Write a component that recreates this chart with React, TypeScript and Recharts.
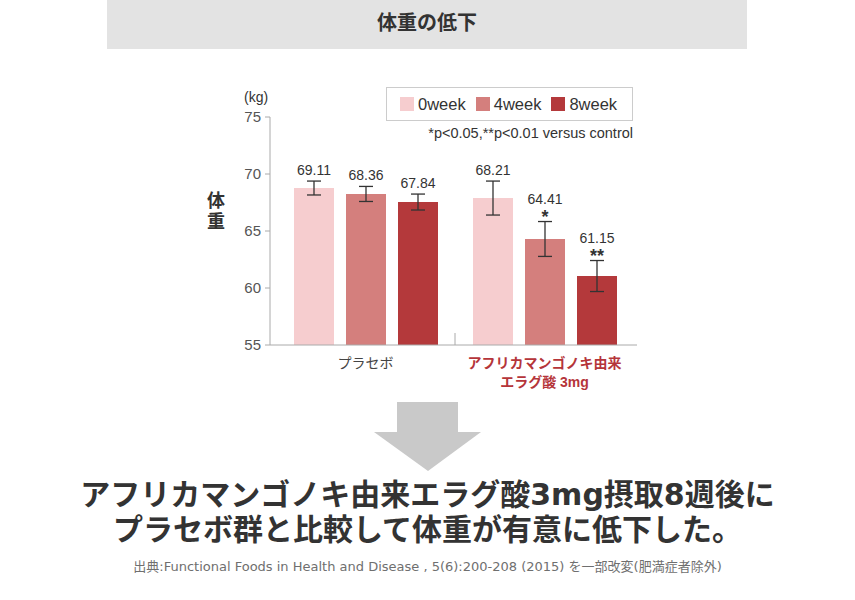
import React from 'react'
import { BarChart, Bar, XAxis, YAxis, ErrorBar, LabelList, Legend } from 'recharts'

const FONT = '"Liberation Sans", "Noto Sans CJK JP", sans-serif'
const HEAD_FONT = '"DejaVu Sans", "Noto Sans CJK JP", sans-serif'

const groups = ['プラセボ', 'アフリカマンゴノキ由来|エラグ酸 3mg']
const weekNames = ['0week', '4week', '8week']
const week0 = [68.77, 67.89]
const week4 = [68.25, 64.3]
const week8 = [67.54, 61.05]
const err0 = [0.61, 1.49]
const err4 = [0.66, 1.53]
const err8 = [0.7, 1.36]
const label0 = ['69.11', '68.21']
const label4 = ['68.36', '64.41']
const label8 = ['67.84', '61.15']
const sig0 = ['', '']
const sig4 = ['', '*']
const sig8 = ['', '**']
const yTicks = [55, 60, 65, 70, 75]

const COLORS = ['#f6cdcf', '#d47f7d', '#b4393b']
const RED_TEXT = '#b5353a'

const data = groups.map((g, i) => ({
  name: g,
  w0: week0[i], w4: week4[i], w8: week8[i],
  e0: err0[i], e4: err4[i], e8: err8[i],
}))

const Y_MIN = yTicks[0]

function makeLabel(labels: string[], errs: number[], sigs: string[]) {
  return (props: any) => {
    const vb = props.viewBox ?? props
    const x = vb.x, y = vb.y, w = vb.width, h = vb.height
    const i = props.index
    const v = Number(props.value)
    const pxPerUnit = h / (v - Y_MIN)
    const errTop = y - errs[i] * pxPerUnit
    const cx = x + w / 2
    const sig = sigs[i]
    return (
      <g>
        <text x={cx} y={sig ? errTop - 18 : errTop - 6} textAnchor="middle" fontSize={14} fill="#333" fontFamily={FONT}>
          {labels[i]}
        </text>
        {sig && (
          <text x={cx} y={errTop + 1} textAnchor="middle" fontSize={18} fontWeight={700} fill="#333" fontFamily={FONT}>
            {sig}
          </text>
        )}
      </g>
    )
  }
}

function XTick(props: any) {
  const { x, y, payload, index } = props
  const lines = String(payload.value).split('|')
  const red = index === 1
  return (
    <g>
      {index === 0 && (
        <line x1={x + payload.offset} x2={x + payload.offset} y1={y - 12} y2={y} stroke="#aaa" />
      )}
      {lines.map((l, k) => (
        <text key={k} x={x} y={y + 23 + k * 19} textAnchor="middle" fontSize={14}
          fontWeight={red ? 700 : 400} fill={red ? RED_TEXT : '#444'} fontFamily={FONT}>
          {l}
        </text>
      ))}
    </g>
  )
}

function LegendBox() {
  return (
    <div style={{ fontFamily: FONT }}>
      <div style={{
        width: 247, height: 34, border: '1px solid #ccc', display: 'flex', alignItems: 'center',
        paddingLeft: 13, boxSizing: 'border-box',
      }}>
        {weekNames.map((n, i) => (
          <div key={n} style={{ display: 'flex', alignItems: 'center', marginRight: 10 }}>
            <div style={{ width: 14, height: 14, background: COLORS[i], marginRight: 4 }} />
            <span style={{ fontSize: 16.5, color: '#333', lineHeight: '17px' }}>{n}</span>
          </div>
        ))}
      </div>
      <div style={{ fontSize: 14.5, color: '#333', textAlign: 'right', marginTop: 4, width: 247, lineHeight: '17px' }}>
        *p&lt;0.05,**p&lt;0.01 versus control
      </div>
    </div>
  )
}

export default function App() {
  return (
    <div style={{ position: 'absolute', left: 0, top: 0, width: 855, height: 600, background: '#fff', fontFamily: FONT }}>
      <div style={{
        position: 'absolute', left: 107, top: 0, width: 640, height: 49, background: '#e3e3e3',
        textAlign: 'center', lineHeight: '46px', fontSize: 20, fontWeight: 700, color: '#333',
      }}>
        体重の低下
      </div>

      <div style={{ position: 'absolute', left: 244, top: 89, fontSize: 14, color: '#333', lineHeight: '16px' }}>(kg)</div>
      <div style={{ position: 'absolute', left: 207, top: 191, fontSize: 18, fontWeight: 700, color: '#333', lineHeight: '20px', height: 20 }}>
        体
      </div>
      <div style={{ position: 'absolute', left: 207, top: 212, fontSize: 18, fontWeight: 700, color: '#333', lineHeight: '20px', height: 20 }}>
        重
      </div>

      <div style={{ position: 'absolute', left: 180, top: 80 }}>
        <BarChart width={480} height={320} data={data} barSize={40} barGap={12}
          margin={{ top: 37, right: 23, left: 30, bottom: 0 }}>
          <XAxis dataKey="name" axisLine={{ stroke: '#aaa' }} tickLine={false} tickSize={0} tickMargin={0}
            height={55} interval={0} padding={{ left: 6, right: 3 }} tick={<XTick />} />
          <YAxis domain={[55, 75]} ticks={yTicks} width={60} axisLine={{ stroke: '#aaa' }}
            tickLine={{ stroke: '#aaa' }} tickSize={5} tickMargin={4}
            tick={{ fill: '#555', fontSize: 15, fontFamily: FONT }} />
          <Legend layout="horizontal" verticalAlign="middle" align="center"
            wrapperStyle={{ left: 206, top: 7, width: 247 }} content={<LegendBox />} />
          <Bar dataKey="w0" name={weekNames[0]} fill={COLORS[0]} isAnimationActive={false}>
            <ErrorBar dataKey="e0" width={7} stroke="#333" strokeWidth={1.3} />
            <LabelList dataKey="w0" content={makeLabel(label0, err0, sig0)} />
          </Bar>
          <Bar dataKey="w4" name={weekNames[1]} fill={COLORS[1]} isAnimationActive={false}>
            <ErrorBar dataKey="e4" width={7} stroke="#333" strokeWidth={1.3} />
            <LabelList dataKey="w4" content={makeLabel(label4, err4, sig4)} />
          </Bar>
          <Bar dataKey="w8" name={weekNames[2]} fill={COLORS[2]} isAnimationActive={false}>
            <ErrorBar dataKey="e8" width={7} stroke="#333" strokeWidth={1.3} />
            <LabelList dataKey="w8" content={makeLabel(label8, err8, sig8)} />
          </Bar>
        </BarChart>
      </div>

      <svg style={{ position: 'absolute', left: 0, top: 0 }} width={855} height={600} pointerEvents="none">
        <polygon points="397,402 458,402 458,432 481,432 428,471 374,432 397,432" fill="#c9c9c9" />
      </svg>

      <div style={{
        position: 'absolute', left: 0, top: 477, width: 855, height: 35, textAlign: 'center', fontSize: 30,
        fontWeight: 700, color: '#333', lineHeight: '35px', fontFamily: HEAD_FONT,
      }}>
        アフリカマンゴノキ由来エラグ酸3mg摂取8週後に
      </div>
      <div style={{
        position: 'absolute', left: 0, top: 512, width: 855, height: 35, textAlign: 'center', fontSize: 30,
        fontWeight: 700, color: '#333', lineHeight: '35px', fontFamily: HEAD_FONT,
      }}>
        プラセボ群と比較して体重が有意に低下した。
      </div>

      <div style={{
        position: 'absolute', left: 0, top: 559, width: 855, textAlign: 'center', fontSize: 13, color: '#6f6f6f',
        lineHeight: '16px', fontFamily: HEAD_FONT,
      }}>
        出典:Functional Foods in Health and Disease , 5(6):200-208 (2015) を一部改変(肥満症者除外)
      </div>
    </div>
  )
}
